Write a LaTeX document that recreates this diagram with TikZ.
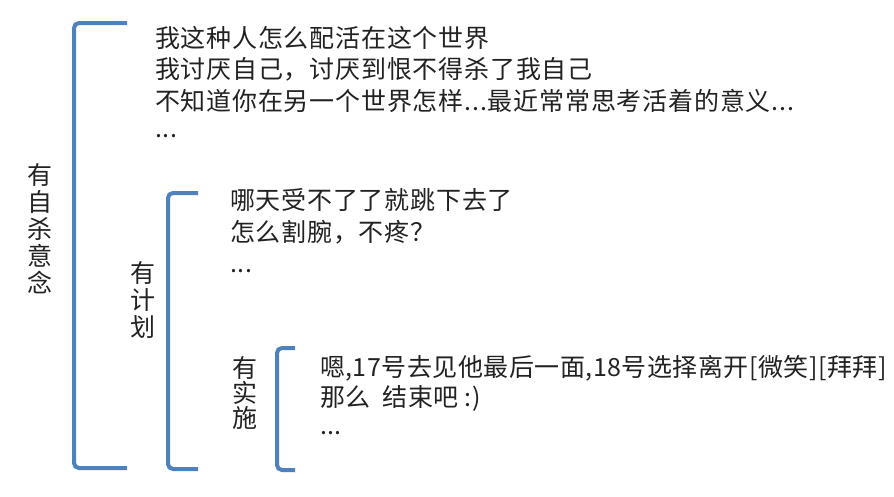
\documentclass[tikz,border=0pt]{standalone}
\usepackage{fontspec}
\setmainfont{Noto Sans CJK SC}
\newfontfamily\wideface[LetterSpace=3.2]{Noto Sans CJK SC}
\newfontfamily\actface[LetterSpace=2]{Noto Sans CJK SC}
\usepackage{xcolor}
\usetikzlibrary{positioning}
\definecolor{bracketblue}{HTML}{4F81BD}
\definecolor{inkgray}{HTML}{222222}

\begin{document}
\begin{tikzpicture}[x=1pt,y=-1pt]
\tikzset{every node/.style={text=inkgray,inner sep=0pt,outer sep=0pt}}
\tikzset{line/.style={anchor=base west,font=\wideface\fontsize{25}{30}\selectfont}}
\tikzset{actline/.style={line,font=\actface\fontsize{25}{30}\selectfont}}
\tikzset{vlabel/.style={align=center,font=\fontsize{25}{27}\selectfont}}
\tikzset{bracket/.style={draw=bracketblue,line width=4pt,rounded corners=5pt}}

\useasboundingbox (0,0) rectangle (894,496);

% outer level
\node[line] (ideaA) at (155,47) {我这种人怎么配活在这个世界};
\node[line] (ideaB) at (155,78) {我讨厌自己，讨厌到恨不得杀了我自己};
\node[line] (ideaC) at (155,110) {不知道你在另一个世界怎样...最近常常思考活着的意义...};
\node[line] (ideaD) at (155,137) {...};
\node[vlabel] (idea) at (40,229) {有\\自\\杀\\意\\念};
\coordinate (ideaTop) at (127,23);
\coordinate (ideaBot) at (127,468);
\draw[bracket] (ideaTop) -- ++(-53,0) |- (ideaBot);

% middle level
\node[line] (planA) at (230,209) {哪天受不了了就跳下去了};
\node[line] (planB) at (230,241) {怎么割腕，不疼？};
\node[line] (planC) at (230,272) {...};
\node[vlabel] (plan) at (143,300) {有\\计\\划};
\coordinate (planTop) at (198,193);
\coordinate (planBot) at (198,469);
\draw[bracket] (planTop) -- ++(-30,0) |- (planBot);

% inner level
\node[actline] (actA) at (320,376) {嗯,17号去见他最后一面,18号选择离开[微笑][拜拜]};
\node[actline] (actB) at (320,406) {那么 \ 结束吧 :)};
\node[actline] (actC) at (320,434) {...};
\node[vlabel,font=\fontsize{25}{25}\selectfont] (act) at (245,393) {有\\实\\施};
\coordinate (actTop) at (295,348);
\coordinate (actBot) at (295,470);
\draw[bracket] (actTop) -- ++(-18,0) |- (actBot);

\end{tikzpicture}
\end{document}
